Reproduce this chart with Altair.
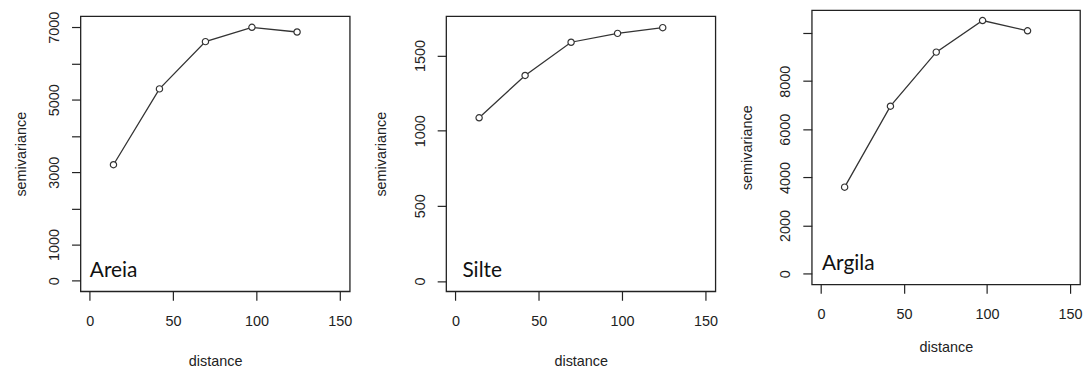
import altair as alt
import pandas as pd

# ---- data ----
distance = [14.2, 41.8, 69.4, 97.3, 124.4]
areia = [3206, 5300, 6605, 7000, 6871]
silte = [1086, 1368, 1589, 1648, 1686]
argila = [3598, 6960, 9206, 10517, 10091]

panel_names = ["Areia", "Silte", "Argila"]
x_ticks = [0, 50, 100, 150]
y_ticks_areia = [0, 1000, 2000, 3000, 4000, 5000, 6000, 7000]
y_labels_areia = [0, 1000, 3000, 5000, 7000]
y_ticks_silte = [0, 500, 1000, 1500]
y_labels_silte = [0, 500, 1000, 1500]
y_ticks_argila = [0, 2000, 4000, 6000, 8000, 10000]
y_labels_argila = [0, 2000, 4000, 6000, 8000]

INK = "#222222"
AXFONT = "Liberation Sans"
AXSIZE = 14.5


def panel(values, name, ydomain, yticks, ylabels, w, h, label_dx,
          ytitle_pad, xtitle_pad):
    df = pd.DataFrame({"distance": distance, "semivariance": values})
    x = alt.X(
        "distance:Q",
        scale=alt.Scale(domain=[-5.6, 156], nice=False, zero=False),
        axis=alt.Axis(
            values=x_ticks, tickCount=50, title="distance", format="d",
            labelFlush=False, labelOverlap=False, labelPadding=14, tickSize=9,
            titleBaseline="alphabetic", titlePadding=xtitle_pad,
        ),
    )
    y = alt.Y(
        "semivariance:Q",
        scale=alt.Scale(domain=ydomain, nice=False, zero=False),
        axis=alt.Axis(
            values=yticks, tickCount=50, title="semivariance", format="d",
            labelExpr=f"indexof({ylabels}, datum.value) >= 0 ? datum.label : ''",
            labelOverlap=False,
            labelAngle=-90, labelAlign="center", labelBaseline="alphabetic",
            labelPadding=13, tickSize=9,
            titleAngle=-90, titleBaseline="alphabetic", titlePadding=ytitle_pad,
        ),
    )
    line = alt.Chart(df).mark_line(color="#333333", strokeWidth=1.3).encode(x=x, y=y)
    pts = alt.Chart(df).mark_point(
        shape="circle", size=40, filled=True, fill="white", fillOpacity=1,
        stroke="#333333", strokeWidth=1.2, opacity=1,
    ).encode(x=x, y=y)
    tdf = pd.DataFrame({"distance": [0], "semivariance": [0], "label": [name]})
    txt = alt.Chart(tdf).mark_text(
        font="Lato", fontSize=21, align="left", baseline="alphabetic",
        dx=label_dx, dy=-4, color="#111111",
    ).encode(x="distance:Q", y="semivariance:Q", text="label:N")
    return alt.layer(line, pts, txt).properties(width=w, height=h)


def spacer(w):
    # invisible 1-px strip used only to push a panel down inside a vconcat
    return (
        alt.Chart(pd.DataFrame({"a": [0]}))
        .mark_rule(strokeWidth=0, opacity=0)
        .encode(x=alt.value(0), y=alt.value(0))
        .properties(width=w, height=1,
                    view=alt.ViewBackground(stroke="transparent"))
    )


p1 = panel(areia, panel_names[0], [-290, 7310], y_ticks_areia, y_labels_areia,
           271, 277, 0, 21, 38.5)
p2 = panel(silte, panel_names[1], [-69, 1763], y_ticks_silte, y_labels_silte,
           271, 277, 7, 27, 38)
p3 = panel(argila, panel_names[2], [-440, 10950], y_ticks_argila, y_labels_argila,
           270, 276, 1, 27, 31)

col1 = alt.vconcat(spacer(271), p1, spacing=1)
col2 = alt.vconcat(spacer(271), p2, spacing=6)
col3 = alt.vconcat(spacer(270), p3, spacing=0)

chart = (
    alt.hconcat(col1, col2, col3, spacing=20)
    .properties(padding={"left": 13, "top": 5, "right": 0, "bottom": 0},
                background="white")
    .configure_view(stroke=INK, strokeWidth=1.3)
    .configure_axis(
        domain=False, grid=False, tickColor=INK, tickWidth=1.2,
        labelFont=AXFONT, labelFontSize=AXSIZE, labelColor=INK,
        titleFont=AXFONT, titleFontSize=AXSIZE, titleColor=INK,
        titleFontWeight="normal",
    )
)

chart.save("out.html", embed_options={"renderer": "svg", "actions": False})
